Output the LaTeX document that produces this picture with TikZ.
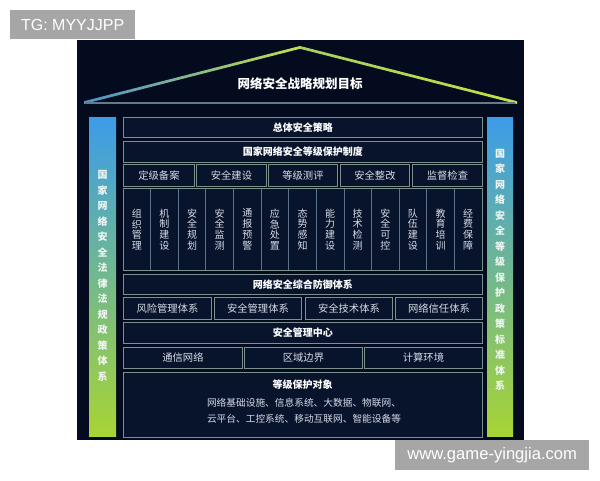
\documentclass[tikz,border=0pt]{standalone}
\usepackage{fontspec}
\newfontfamily\cjk{Noto Sans CJK SC}
\newfontfamily\wm{Liberation Sans}
\definecolor{bgc}{HTML}{040B1E}
\definecolor{boxc}{HTML}{08132C}
\definecolor{bordc}{HTML}{7C918E}
\definecolor{divc}{HTML}{5C7088}
\definecolor{txtc}{HTML}{D6DCE6}
\definecolor{sidetxt}{HTML}{EEF6F2}
\definecolor{sideblue}{HTML}{3C9CE8}
\definecolor{sidemid}{HTML}{5CBCA4}
\definecolor{sidegreen}{HTML}{A8D434}
\definecolor{roofblue}{HTML}{4A92D0}
\definecolor{roofyg}{HTML}{C4E048}
\definecolor{roofgreen}{HTML}{A6D060}
\definecolor{basec}{HTML}{66788C}
\definecolor{wmgray}{HTML}{A6A6A6}
\begin{document}
\begin{tikzpicture}[x=1pt,y=-1pt,
  box/.style={draw=bordc, fill=boxc, line width=0.9pt, inner sep=0pt, anchor=north west},
  ttl/.style={text=white, font=\cjk\bfseries\fontsize{10}{12}\selectfont},
  txt/.style={text=txtc, font=\cjk\fontsize{10.3}{12}\selectfont},
  vtxt/.style={text=txtc, font=\cjk\fontsize{10}{10.8}\selectfont, align=center, inner sep=0pt},
  side/.style={text=sidetxt, font=\cjk\bfseries\fontsize{10}{15.5}\selectfont, align=center, inner sep=0pt},
  wmbox/.style={fill=wmgray, text=white, font=\wm\fontsize{16}{18}\selectfont, inner sep=0pt, anchor=north west}]
\useasboundingbox[fill=white] (0,0) rectangle (600,480);
% panel
\fill[bgc] (77,40) rectangle (524,440);
% roof
\shade[left color=roofblue, right color=roofyg] (84,101.2) -- (300,46) -- (300,48.8) -- (84,104) -- cycle;
\shade[left color=roofgreen, middle color=roofblue!80!white, right color=roofyg] (300,46) -- (517,101.2) -- (517,104) -- (300,48.8) -- cycle;
\draw[basec, line width=1.3pt] (86,103) -- (515,103);
\node[text=white, font=\cjk\bfseries\fontsize{12.5}{14}\selectfont] (goal) at (300,84) {网络安全战略规划目标};
% side bars
\shade[top color=sideblue, middle color=sidemid, bottom color=sidegreen] (89,117) rectangle (116,436);
\shade[top color=sideblue, middle color=sidemid, bottom color=sidegreen] (487,117) rectangle (513,436);
\node[side] (lside) at (102.5,276) {国\\家\\网\\络\\安\\全\\法\\律\\法\\规\\政\\策\\体\\系};
\node[side] (rside) at (500,270) {国\\家\\网\\络\\安\\全\\等\\级\\保\\护\\政\\策\\标\\准\\体\\系};
% rows
\node[box, ttl, minimum width=359, minimum height=20] (r1) at (123,117) {总体安全策略};
\node[box, ttl, minimum width=359, minimum height=21] (r2) at (123,141) {国家网络安全等级保护制度};
\node[box, txt, minimum width=71, minimum height=22] (a1) at (123,164) {定级备案};
\node[box, txt, minimum width=70, minimum height=22] (a2) at (196,164) {安全建设};
\node[box, txt, minimum width=69, minimum height=22] (a3) at (268,164) {等级测评};
\node[box, txt, minimum width=69, minimum height=22] (a4) at (340,164) {安全整改};
\node[box, txt, minimum width=70, minimum height=22] (a5) at (412,164) {监督检查};
\node[box, minimum width=359, minimum height=82] (cells) at (123,188) {};
\foreach \k in {1,...,12} {
  \draw[divc, line width=0.8pt] ({123+\k*27.615},188.5) -- ({123+\k*27.615},269.5);
}
\foreach \t [count=\i from 0] in {{组\\织\\管\\理},{机\\制\\建\\设},{安\\全\\规\\划},{安\\全\\监\\测},{通\\报\\预\\警},{应\\急\\处\\置},{态\\势\\感\\知},{能\\力\\建\\设},{技\\术\\检\\测},{安\\全\\可\\控},{队\\伍\\建\\设},{教\\育\\培\\训},{经\\费\\保\\障}} {
  \node[vtxt] (c\i) at ({123+(\i+0.5)*27.615},229.5) {\t};
}
\node[box, ttl, minimum width=359, minimum height=20] (r5) at (123,274) {网络安全综合防御体系};
\node[box, txt, minimum width=88, minimum height=22] (b1) at (123,297) {风险管理体系};
\node[box, txt, minimum width=87, minimum height=22] (b2) at (214,297) {安全管理体系};
\node[box, txt, minimum width=87, minimum height=22] (b3) at (305,297) {安全技术体系};
\node[box, txt, minimum width=87, minimum height=22] (b4) at (395,297) {网络信任体系};
\node[box, ttl, minimum width=359, minimum height=21] (r7) at (123,322) {安全管理中心};
\node[box, txt, minimum width=119, minimum height=21] (d1) at (123,347) {通信网络};
\node[box, txt, minimum width=118, minimum height=21] (d2) at (244,347) {区域边界};
\node[box, txt, minimum width=118, minimum height=21] (d3) at (364,347) {计算环境};
\node[box, minimum width=359, minimum height=65] (r9) at (123,372) {};
\node[ttl] (objt) at (302.5,385) {等级保护对象};
\node[txt, font=\cjk\fontsize{9.7}{15.5}\selectfont, align=left] (objs) at (304,411) {网络基础设施、信息系统、大数据、物联网、\\云平台、工控系统、移动互联网、智能设备等};
% watermarks
\node[wmbox, minimum width=125, minimum height=29] (wm1) at (10,10) {TG: MYYJJPP};
\node[wmbox, minimum width=194, minimum height=30, font=\wm\fontsize{16.6}{18}\selectfont] (wm2) at (395,440) {www.game-yingjia.com};
\end{tikzpicture}
\end{document}
